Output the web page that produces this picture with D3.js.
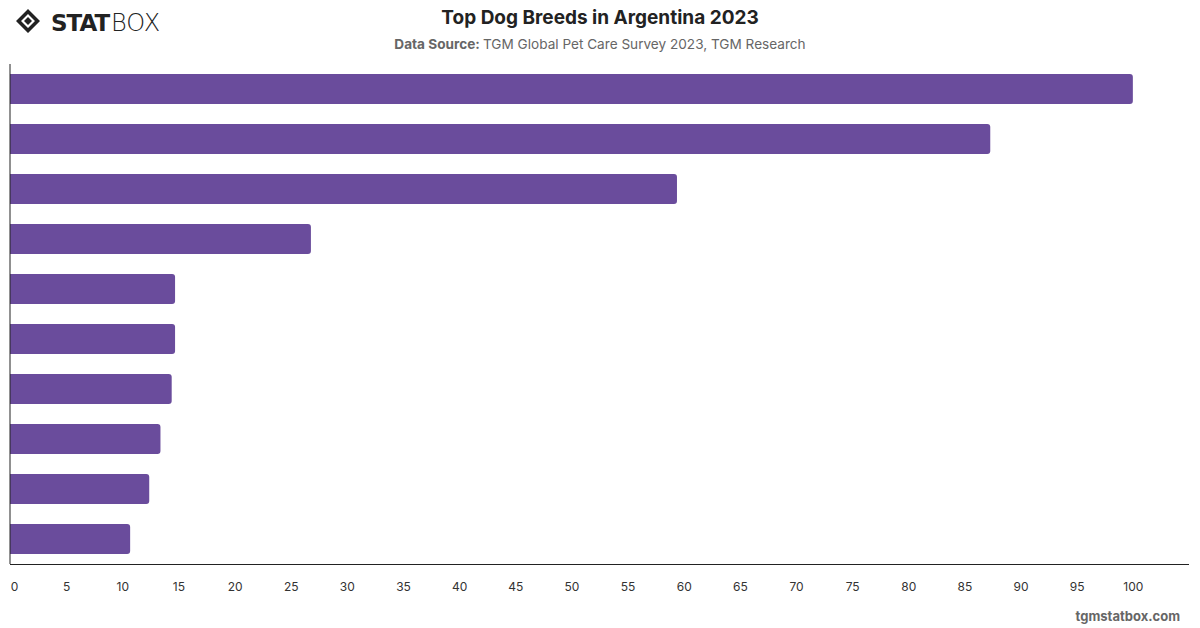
<!DOCTYPE html>
<html lang="en">
<head>
  <meta charset="UTF-8">
  <script src="https://d3js.org/d3.v7.min.js"></script>
  <title>Top Dog Breeds in Argentina 2023</title>
  <style>
    body { margin: 0; background: #fff; font-family: Inter, "Noto Sans", sans-serif; }
    .x.axis .domain { display: none; }
    .x.axis line { display: none; }
    .x.axis text { font-size: 12px; fill: #333; font-family: Inter, sans-serif; }
  </style>
</head>
<body>
  <svg id="chart" width="1200" height="628"></svg>
  <script>
    // data (breed names are not shown in the reference)
    const breeds = ["Breed 1", "Breed 2", "Breed 3", "Breed 4", "Breed 5",
                    "Breed 6", "Breed 7", "Breed 8", "Breed 9", "Breed 10"];
    const values = [100, 87.3, 59.4, 26.8, 14.7, 14.7, 14.4, 13.4, 12.4, 10.7];
    const xTicks = [0, 5, 10, 15, 20, 25, 30, 35, 40, 45, 50, 55, 60, 65, 70, 75, 80, 85, 90, 95, 100];

    const svg = d3.select("#chart");
    const margin = { top: 64, right: 11, bottom: 64, left: 10 };
    const width = 1200, height = 628;
    const plotBottom = height - margin.bottom;

    const x = d3.scaleLinear().domain([0, 105]).range([margin.left, width - margin.right]);
    const y = d3.scaleBand().domain(breeds).range([margin.top, plotBottom]).paddingInner(0.4).paddingOuter(0.2);

    // header
    const logo = svg.append("g").attr("transform", "translate(16,9)");
    logo.append("path")
      .attr("d", "M12,0 L24,12 L12,24 L0,12 Z M12,5 L19,12 L12,19 L5,12 Z")
      .attr("fill", "#222").attr("fill-rule", "evenodd");
    logo.append("path")
      .attr("d", "M12,8 L16,12 L12,16 L8,12 Z").attr("fill", "#222");
    logo.append("text").attr("x", 35).attr("y", 22)
      .style("font-family", "'DejaVu Sans', sans-serif").style("font-weight", 900)
      .style("font-size", "23px").style("fill", "#222").style("letter-spacing", "-1px")
      .text("STAT");
    logo.append("text").attr("x", 95).attr("y", 22)
      .style("font-family", "'DejaVu Sans', sans-serif").style("font-weight", 300)
      .style("font-size", "24px").style("fill", "#222")
      .text("BOX");

    svg.append("text").attr("x", 600).attr("y", 24).attr("text-anchor", "middle")
      .style("font-size", "19px").style("font-weight", 700).style("fill", "#222")
      .text("Top Dog Breeds in Argentina 2023");
    const sub = svg.append("text").attr("x", 600).attr("y", 49).attr("text-anchor", "middle")
      .style("font-size", "13.6px").style("fill", "#666");
    sub.append("tspan").style("font-weight", 700).text("Data Source: ");
    sub.append("tspan").text("TGM Global Pet Care Survey 2023, TGM Research");

    // bars with rounded right end
    const r = 3;
    svg.append("g").selectAll("path").data(values).join("path")
      .attr("fill", "#6a4c9c")
      .attr("d", (d, i) => {
        const x0 = x(0), x1 = x(d), y0 = y(breeds[i]), h = y.bandwidth();
        return `M${x0},${y0} H${x1 - r} Q${x1},${y0} ${x1},${y0 + r} V${y0 + h - r} Q${x1},${y0 + h} ${x1 - r},${y0 + h} H${x0} Z`;
      });

    // axes lines
    svg.append("line").attr("x1", x(0)).attr("x2", x(0))
      .attr("y1", margin.top).attr("y2", plotBottom).attr("stroke", "#222").attr("stroke-width", 1);
    svg.append("line").attr("x1", x(0)).attr("x2", width - margin.right)
      .attr("y1", plotBottom + 0.5).attr("y2", plotBottom + 0.5).attr("stroke", "#222").attr("stroke-width", 1);

    const xAxis = svg.append("g").attr("class", "x axis")
      .attr("transform", `translate(0,${plotBottom + 12})`)
      .call(d3.axisBottom(x).tickValues(xTicks).tickSize(0).tickPadding(6));
    xAxis.selectAll("text").filter(d => d === 0).attr("dx", 4);

    svg.append("text").attr("x", 1180).attr("y", 621).attr("text-anchor", "end")
      .style("font-size", "13px").style("font-weight", 700).style("fill", "#666")
      .text("tgmstatbox.com");
  </script>
</body>
</html>
